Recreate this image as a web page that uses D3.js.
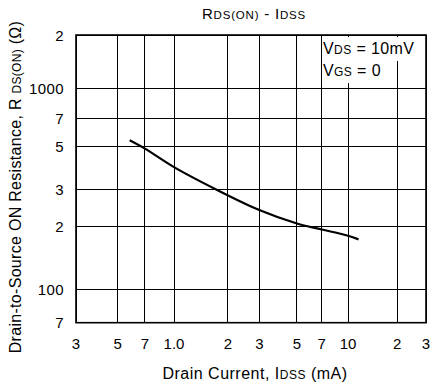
<!DOCTYPE html>
<meta charset="utf-8">
<style>
body { margin: 0; background: #fff; }
text { font-family: "Liberation Sans", Arial, sans-serif; fill: #000; }
.grid line { stroke: #000; stroke-width: 1; shape-rendering: crispEdges; }
</style>
<svg width="431" height="385"></svg>
<script src="https://d3js.org/d3.v7.min.js"></script>
<script>
// drain current (mA) vs on-resistance (ohm)
var current = [0.58, 0.7, 1.0, 1.72, 3, 5, 7, 10, 11.6];
var resistance = [538, 487, 391, 300, 239, 206, 193, 180, 173];

var xTicks = [0.3, 0.5, 0.7, 1, 2, 3, 5, 7, 10, 20, 30];
var xTickLabels = ["3", "5", "7", "1.0", "2", "3", "5", "7", "10", "2", "3"];
var yTicks = [70, 100, 200, 300, 500, 700, 1000, 2000];
var yTickLabels = ["7", "100", "2", "3", "5", "7", "1000", "2"];

var svg = d3.select("svg");
var pLeft = 76, pRight = 426, pTop = 35, pBottom = 322.7;

// hand drawn log paper, decades are not quite even
var x = d3.scaleLog().domain([0.3, 1, 3, 10, 30]).range([pLeft, 174, 259.3, 348, pRight]);
var y = d3.scaleLog().domain([70, 100, 300, 1000, 2000]).range([pBottom, 289, 189.5, 88, pTop]);

var grid = svg.append("g").attr("class", "grid");
grid.selectAll(".vx").data(xTicks).enter().append("line")
    .attr("x1", function(d) { return x(d); }).attr("x2", function(d) { return x(d); })
    .attr("y1", pTop).attr("y2", pBottom);
grid.selectAll(".hy").data(yTicks).enter().append("line")
    .attr("y1", function(d) { return y(d); }).attr("y2", function(d) { return y(d); })
    .attr("x1", pLeft).attr("x2", pRight);

svg.append("rect").attr("x", pLeft).attr("y", pTop)
    .attr("width", pRight - pLeft).attr("height", pBottom - pTop)
    .attr("fill", "none").attr("stroke", "#000").attr("stroke-width", 1.6);

// tick labels
svg.selectAll(".xl").data(xTicks).enter().append("text")
    .attr("x", function(d) { return x(d); }).attr("y", 349)
    .attr("text-anchor", "middle").attr("font-size", 15)
    .text(function(d, i) { return xTickLabels[i]; });
svg.selectAll(".yl").data(yTicks).enter().append("text")
    .attr("x", 64).attr("y", function(d) { return y(d) + 5.5; })
    .attr("text-anchor", "end").attr("font-size", 15).attr("letter-spacing", 0.4)
    .text(function(d, i) { return yTickLabels[i]; });

// curve
var line = d3.line()
    .x(function(d, i) { return x(current[i]); })
    .y(function(d, i) { return y(resistance[i]); })
    .curve(d3.curveCatmullRom.alpha(0.5));
svg.append("path").datum(current).attr("d", line)
    .attr("fill", "none").attr("stroke", "#000").attr("stroke-width", 2.2);

// conditions box
svg.append("rect").attr("x", 322).attr("y", 37).attr("width", 103).attr("height", 24).attr("fill", "#fff");
svg.append("rect").attr("x", 322).attr("y", 61).attr("width", 68).attr("height", 22).attr("fill", "#fff");
var c1 = svg.append("text").attr("x", 323).attr("y", 54).attr("font-size", 16).attr("letter-spacing", 0.4);
c1.append("tspan").text("V");
c1.append("tspan").attr("font-size", 12).text("DS");
c1.append("tspan").text(" = 10mV");
var c2 = svg.append("text").attr("x", 323).attr("y", 76).attr("font-size", 16).attr("letter-spacing", 0.4);
c2.append("tspan").text("V");
c2.append("tspan").attr("font-size", 12).text("GS");
c2.append("tspan").text(" = 0");

// title
var t = svg.append("text").attr("x", 254).attr("y", 19).attr("text-anchor", "middle")
    .attr("font-size", 15).attr("letter-spacing", 0.8);
t.append("tspan").text("R");
t.append("tspan").attr("font-size", 11.5).text("DS(ON)");
t.append("tspan").text(" - I");
t.append("tspan").attr("font-size", 11.5).text("DSS");

// axis titles
var xt = svg.append("text").attr("x", 255).attr("y", 379).attr("text-anchor", "middle")
    .attr("font-size", 16).attr("letter-spacing", 0.5);
xt.append("tspan").text("Drain Current, I");
xt.append("tspan").attr("font-size", 12).text("DSS");
xt.append("tspan").text(" (mA)");

var yt = svg.append("text").attr("transform", "translate(21,187) rotate(-90)")
    .attr("text-anchor", "middle").attr("font-size", 16).attr("letter-spacing", 0.3);
yt.append("tspan").text("Drain-to-Source ON Resistance, R ");
yt.append("tspan").attr("font-size", 12).text("DS(ON)");
yt.append("tspan").text("  (\u03a9)");
</script>
